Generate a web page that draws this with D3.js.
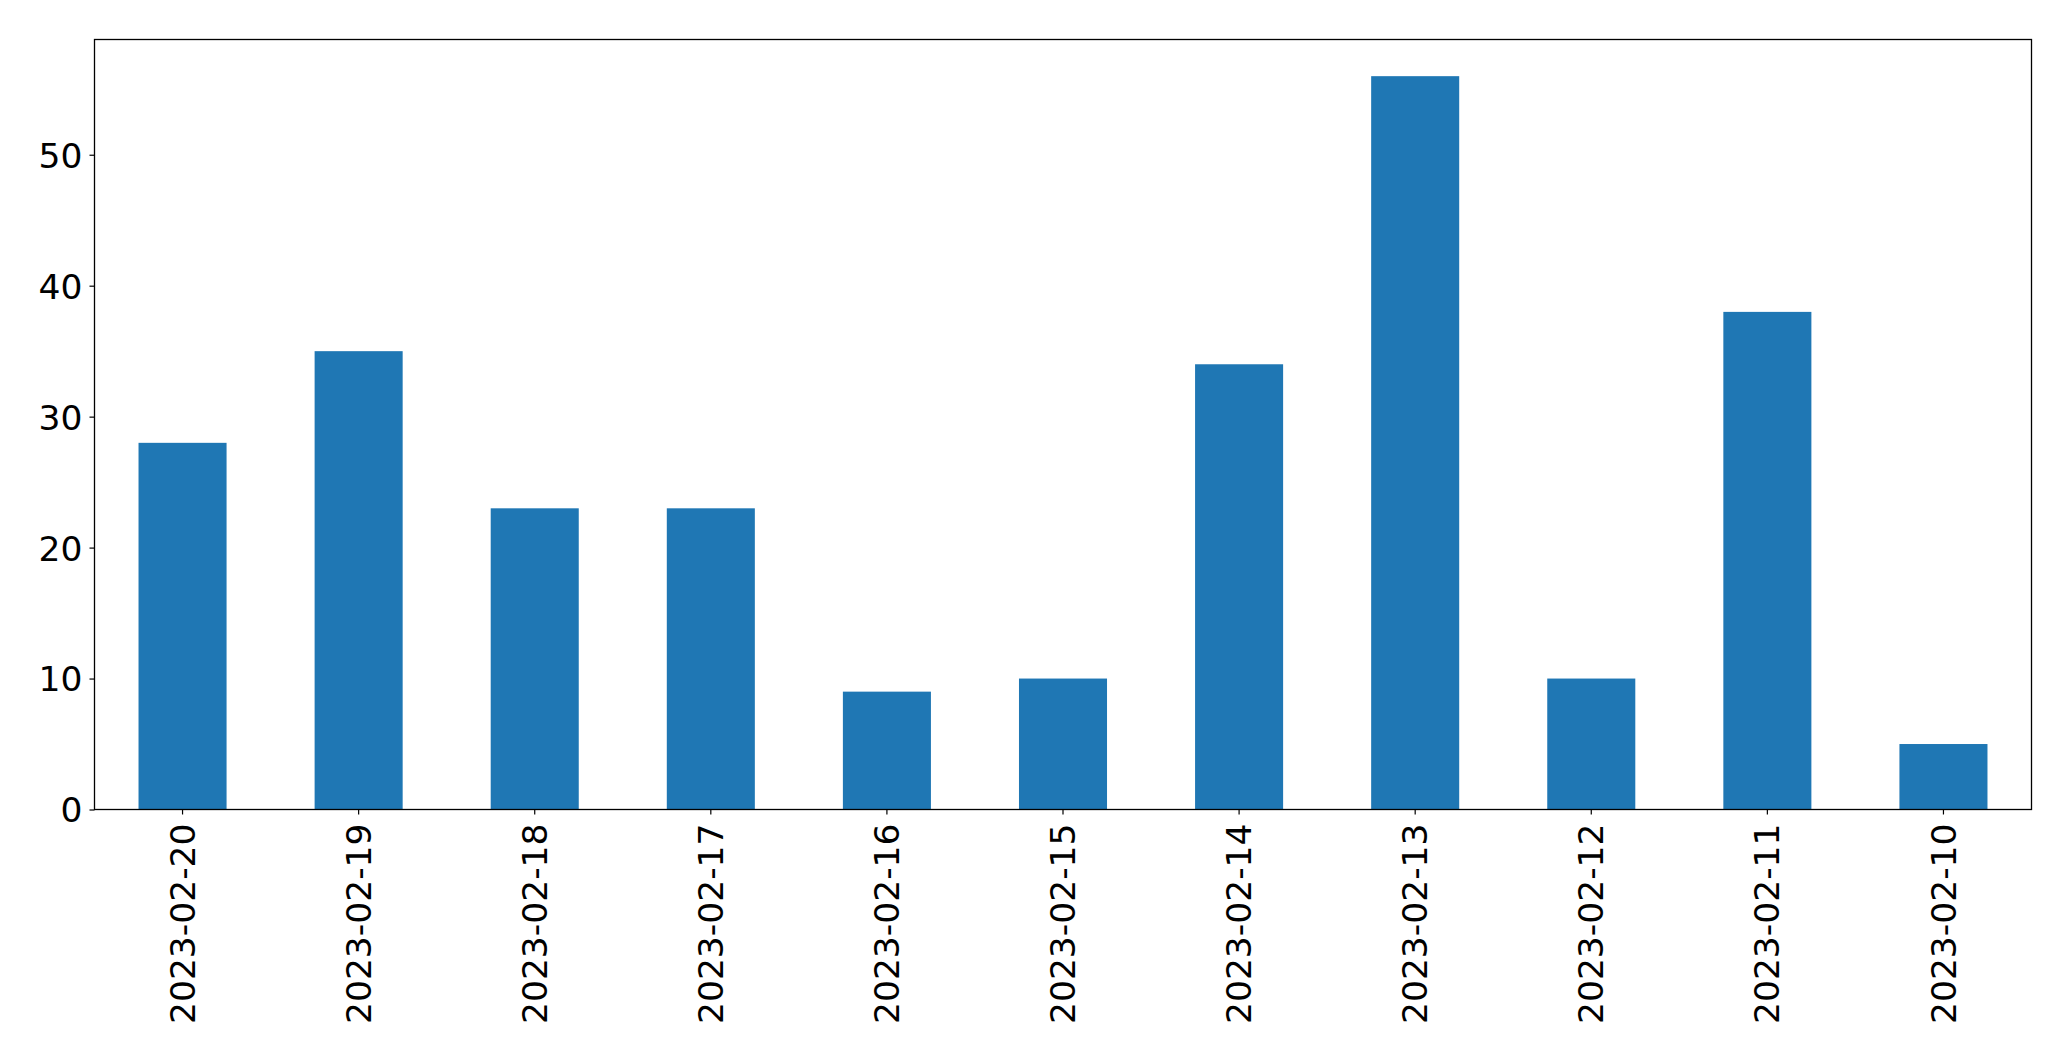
<!DOCTYPE html>
<html>
<head>
<meta charset="utf-8">
<script src="https://cdn.jsdelivr.net/npm/d3@7"></script>
<style>
html, body { margin: 0; padding: 0; background: #fff; }
svg { display: block; }
text { font-family: "DejaVu Sans", sans-serif; fill: #000; }
</style>
</head>
<body>
<script>
const categories = ["2023-02-20","2023-02-19","2023-02-18","2023-02-17","2023-02-16","2023-02-15","2023-02-14","2023-02-13","2023-02-12","2023-02-11","2023-02-10"];
const values = [28, 35, 23, 23, 9, 10, 34, 56, 10, 38, 5];
const yTicks = [0, 10, 20, 30, 40, 50];

const W = 2071, H = 1061;
const mLeft = 94.5, mRight = 2031.5, mTop = 39.5, mBottom = 809.5;
const fontSize = 34.5;

const svg = d3.select("body").append("svg").attr("width", W).attr("height", H);

const x = d3.scaleBand().domain(categories).range([mLeft, mRight]).paddingInner(0.5).paddingOuter(0.25);
const y = d3.scaleLinear().domain([0, d3.max(values) * 1.05]).range([mBottom, mTop]);

svg.append("g").selectAll("rect").data(values).join("rect")
  .attr("x", (d, i) => x(categories[i]))
  .attr("width", x.bandwidth())
  .attr("y", d => y(d))
  .attr("height", d => y(0) - y(d))
  .attr("fill", "#1f77b4");

// y axis
const yAxis = svg.append("g").attr("transform", `translate(${mLeft},0)`)
  .call(d3.axisLeft(y).tickValues(yTicks).tickSize(5).tickPadding(7).tickFormat(d3.format("d")));
yAxis.select(".domain").remove();
yAxis.selectAll("line").attr("stroke", "#000").attr("stroke-width", 1.2);
yAxis.selectAll("text").attr("font-size", fontSize).attr("font-family", "DejaVu Sans").attr("dy", "0.36em");

// x axis
const xAxis = svg.append("g").attr("transform", `translate(0,${mBottom})`)
  .call(d3.axisBottom(x).tickSize(5).tickPadding(0));
xAxis.select(".domain").remove();
xAxis.selectAll("line").attr("stroke", "#000").attr("stroke-width", 1.2);
xAxis.selectAll("text")
  .attr("font-size", fontSize).attr("font-family", "DejaVu Sans")
  .attr("text-anchor", "end")
  .attr("y", 0).attr("dy", "0.35em")
  .attr("transform", "translate(0,14) rotate(-90)");

// frame
svg.append("rect").attr("x", mLeft).attr("y", mTop)
  .attr("width", mRight - mLeft).attr("height", mBottom - mTop)
  .attr("fill", "none").attr("stroke", "#000").attr("stroke-width", 1.3);
</script>
</body>
</html>
